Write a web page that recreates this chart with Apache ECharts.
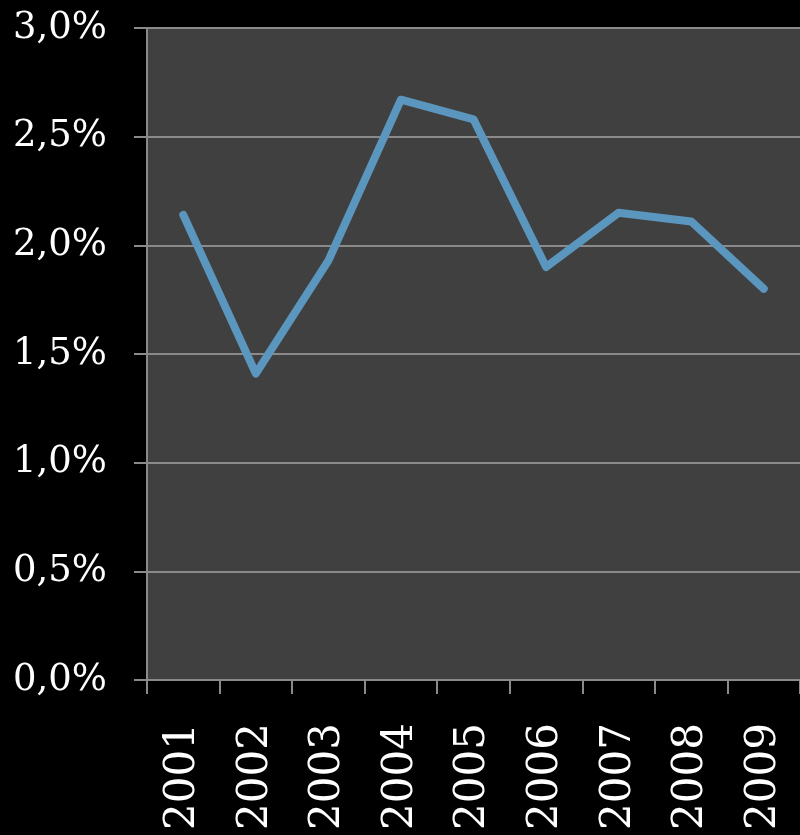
<!DOCTYPE html>
<html>
<head>
<meta charset="utf-8">
<script src="https://cdn.jsdelivr.net/npm/echarts@6/dist/echarts.min.js"></script>
<style>
  html, body { margin: 0; padding: 0; background: #000; }
  #chart { width: 800px; height: 835px; }
</style>
</head>
<body>
<div id="chart"></div>
<script>
const years = ['2001', '2002', '2003', '2004', '2005', '2006', '2007', '2008', '2009']
const rates = [2.14, 1.41, 1.93, 2.67, 2.58, 1.90, 2.15, 2.11, 1.80]

const gridColor = '#8a8a8a'

var myChart = echarts.init(document.getElementById('chart'))
var option = {
  backgroundColor: '#000',
  grid: {
    left: 147,
    right: 0,
    top: 28,
    bottom: 155,
    show: true,
    backgroundColor: '#404040',
    borderWidth: 0
  },
  xAxis: {
    type: 'category',
    data: years,
    boundaryGap: true,
    axisLine: { lineStyle: { color: gridColor, width: 2 } },
    axisTick: { show: true, length: 14, lineStyle: { color: gridColor, width: 2 } },
    axisLabel: {
      rotate: 90,
      margin: 43,
      color: '#fff',
      fontFamily: 'DejaVu Serif',
      fontSize: 42,
      interval: 0
    }
  },
  yAxis: {
    type: 'value',
    min: 0,
    max: 3,
    interval: 0.5,
    axisLine: { show: true, lineStyle: { color: gridColor, width: 2 } },
    axisTick: { show: true, length: 13, lineStyle: { color: gridColor, width: 2 } },
    splitLine: { lineStyle: { color: gridColor, width: 2 } },
    axisLabel: {
      margin: 40,
      color: '#fff',
      fontFamily: 'DejaVu Serif',
      fontSize: 37,
      formatter: (v) => v.toFixed(1).replace('.', ',') + '%'
    }
  },
  series: [{
    type: 'line',
    data: rates,
    symbol: 'none',
    lineStyle: { color: '#5a96be', width: 8, cap: 'round', join: 'round' },
    itemStyle: { color: '#5a96be' }
  }]
}
myChart.setOption(option)
</script>
</body>
</html>
